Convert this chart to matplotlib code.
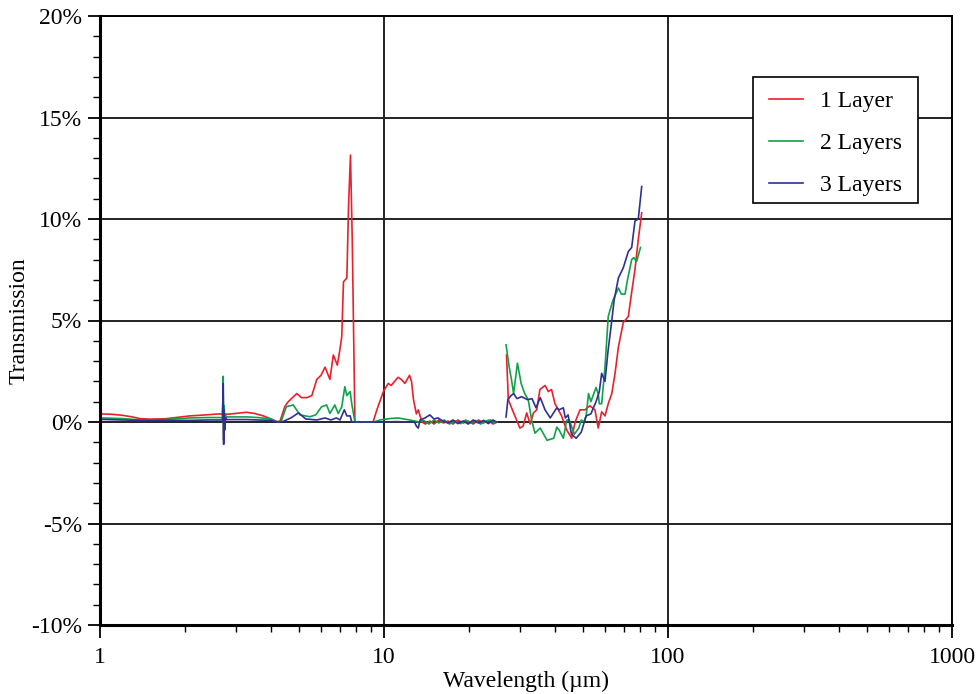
import numpy as np
import matplotlib
matplotlib.use("Agg")
import matplotlib.pyplot as plt
from matplotlib.patches import Rectangle
from matplotlib.ticker import FixedLocator, FuncFormatter, NullFormatter

# ---------------- data (wavelength in um, transmission in %) ----------------
nan = np.nan

wl_red = [1.0, 1.1, 1.2, 1.3, 1.38, 1.5, 1.7, 2.07, 2.3, 2.64, 2.70, 2.715, 2.725, 2.735, 2.75, 2.77, 2.8,
          3.0, 3.28, 3.5, 3.76, 4.0, 4.18, 4.3, 4.47, 4.6, 4.93, 5.12, 5.35, 5.57, 5.8, 6.0, 6.2, 6.45, 6.63,
          6.85, 7.0, 7.1, 7.2, 7.3, 7.4, 7.5, 7.62, 7.73, 7.9, 8.3, 8.8, 9.15, 9.44, 9.95, 10.35, 10.6,
          11.2, 11.5, 11.85, 12.3, 12.5, 12.7, 13.0, 13.2, 13.6, 14.0, 14.5, 15.0, 15.6, 16.2, 16.8, 17.5,
          18.2, 19.0, 19.8, 20.6, 21.5, 22.4, 23.3, 24.2, 24.9,
          26.0,
          27.0, 27.4, 28.5, 30.1, 30.9, 31.8, 32.7, 33.6, 34.5, 35.4, 36.9, 37.9, 38.9, 40.0, 41.1, 42.2,
          44.0, 45.8, 47.1, 49.0, 51.0, 53.1, 55.3, 56.8, 58.4, 60.0, 61.6, 63.4, 65.1, 66.9, 69.6, 72.5,
          74.5, 76.5, 78.6, 80.8]
t_red = [0.40, 0.38, 0.33, 0.25, 0.17, 0.14, 0.16, 0.30, 0.34, 0.40, 0.38, 1.2, -0.9, 0.5, -0.2, 0.4, 0.38,
         0.42, 0.48, 0.42, 0.30, 0.15, 0.03, 0.02, 0.75, 1.0, 1.4, 1.2, 1.2, 1.3, 2.1, 2.3, 2.7, 2.1, 3.3,
         2.8, 3.6, 4.2, 6.9, 7.0, 7.1, 10.6, 13.15, 9.0, 0.0, 0.0, 0.0, 0.0, 0.6, 1.5, 1.9, 1.8,
         2.2, 2.1, 1.9, 2.3, 2.0, 1.1, 0.4, 0.6, 0.0, -0.1, 0.05, -0.1, 0.1, -0.05, 0.05, -0.1,
         0.1, -0.05, 0.05, -0.1, 0.1, -0.05, 0.08, -0.1, 0.0,
         nan,
         3.3, 1.1, 0.5, -0.3, -0.2, 0.45, -0.1, 0.45, 0.6, 1.6, 1.8, 1.5, 1.6, 0.9, 0.6, 0.3,
         -0.4, -0.8, 0.0, 0.6, 0.6, 0.8, 0.6, -0.3, 0.5, 0.3, 0.9, 1.4, 2.4, 3.7, 4.9, 5.2,
         6.4, 7.5, 9.0, 10.3]

wl_green = [1.0, 1.2, 1.38, 1.7, 2.07, 2.4, 2.64, 2.70, 2.715, 2.725, 2.735, 2.75, 2.77, 2.8, 3.0, 3.3,
            3.6, 4.0, 4.2, 4.35, 4.53, 4.79, 5.06, 5.48, 5.75, 6.03, 6.28, 6.45, 6.71, 6.9, 7.1, 7.28,
            7.4, 7.6, 7.7, 7.9, 8.5, 9.2, 9.68, 10.5, 11.2, 12.3, 13.3, 13.8, 14.4, 15.0, 15.6, 16.3,
            17.0, 17.8, 18.6, 19.4, 20.2, 21.0, 21.9, 22.8, 23.7, 24.6, 25.0,
            26.0,
            26.9, 27.6, 28.1, 28.6, 29.5, 30.4, 31.3, 32.2, 33.1, 34.0, 35.5, 37.5, 39.6, 40.6, 41.4,
            42.8, 44.0, 44.9, 46.8, 48.5, 49.5, 50.5, 51.5, 52.5, 53.5, 55.8, 56.8, 57.3, 58.4, 60.0,
            61.6, 64.0, 66.9, 68.5, 70.6, 72.0, 74.5, 75.8, 77.5, 80.0]
t_green = [0.20, 0.17, 0.10, 0.12, 0.20, 0.22, 0.22, 0.2, 2.25, -0.6, 0.8, -0.2, 0.3, 0.25, 0.25, 0.25,
           0.22, 0.15, 0.0, 0.05, 0.75, 0.84, 0.35, 0.26, 0.35, 0.75, 0.84, 0.42, 0.84, 0.42, 0.75, 1.74,
           1.3, 1.5, 0.9, 0.0, 0.0, 0.0, 0.1, 0.17, 0.2, 0.1, 0.0, 0.08, -0.1, 0.1, -0.05, 0.1,
           -0.1, 0.05, -0.08, 0.1, -0.05, 0.08, -0.1, 0.05, 0.1, -0.05, 0.0,
           nan,
           3.8, 2.7, 2.1, 1.4, 2.9, 1.9, 1.4, 1.1, 0.1, -0.55, -0.3, -0.9, -0.8, -0.25, -0.4,
           -0.8, 0.1, 0.1, -0.6, -0.3, 0.1, 0.0, 0.3, 1.4, 1.0, 1.7, 1.4, 0.9, 0.9, 2.7,
           5.2, 6.0, 6.6, 6.3, 6.3, 7.0, 8.0, 8.1, 7.9, 8.6]

wl_blue = [1.0, 1.2, 1.38, 1.7, 2.07, 2.4, 2.64, 2.70, 2.715, 2.725, 2.735, 2.75, 2.77, 2.8, 3.0, 3.3,
           3.6, 4.0, 4.2, 4.4, 4.7, 5.0, 5.3, 5.8, 6.2, 6.5, 6.8, 7.0, 7.25, 7.4, 7.6, 7.7, 7.9, 8.5,
           9.2, 10.0, 11.0, 12.0, 12.8, 13.0, 13.2, 13.4, 13.95, 14.5, 15.0, 15.5, 16.1, 16.8, 17.5,
           18.2, 19.0, 19.8, 20.6, 21.5, 22.4, 23.3, 24.2, 24.9,
           26.0,
           26.9, 27.3, 28.0, 28.6, 29.4, 30.5, 32.0, 33.2, 34.3, 35.5, 36.9, 38.5, 40.6, 41.4, 42.8,
           43.5, 44.5, 45.7, 47.5, 49.5, 51.5, 53.5, 55.8, 57.3, 58.4, 60.0, 61.5, 63.4, 64.6, 66.9,
           69.6, 72.5, 74.5, 76.5, 78.6, 80.8]
t_blue = [0.13, 0.10, 0.08, 0.08, 0.08, 0.10, 0.10, 0.1, 1.9, -1.1, 0.6, -0.4, 0.2, 0.12, 0.12, 0.12,
          0.10, 0.08, 0.0, 0.02, 0.2, 0.45, 0.15, 0.1, 0.2, 0.1, 0.2, 0.1, 0.6, 0.3, 0.3, 0.0, 0.0, 0.0,
          0.0, 0.0, 0.02, 0.0, 0.0, -0.2, -0.3, 0.1, 0.2, 0.35, 0.15, 0.2, 0.05, -0.05, 0.1,
          -0.08, 0.05, -0.1, 0.1, -0.05, 0.08, -0.08, 0.1, 0.0,
          nan,
          0.25, 1.1, 1.3, 1.4, 1.15, 1.25, 1.1, 1.15, 0.7, 1.2, 0.6, 0.2, 0.7, 0.6, 0.7,
          0.2, 0.35, -0.6, -0.8, -0.5, 0.3, 0.4, 1.0, 1.5, 2.4, 2.0, 3.5, 5.0, 6.0, 7.1,
          7.6, 8.4, 8.6, 9.9, 10.0, 11.6]

series_labels = ["1 Layer", "2 Layers", "3 Layers"]
series_colors = ["#e8212b", "#0fa24a", "#2e3192"]

y_ticks = [20, 15, 10, 5, 0, -5, -10]
x_ticks = [1, 10, 100, 1000]

# ---------------- plot ----------------
plt.rcParams['font.family'] = ['Liberation Serif', 'DejaVu Serif']

fig = plt.figure(figsize=(9.8, 6.94), dpi=100)
ax = fig.add_axes([100/980, 1 - 625/694, 852/980, 609/694])

for wl, t, lab, col in zip([wl_red, wl_green, wl_blue], [t_red, t_green, t_blue],
                           series_labels, series_colors):
    ax.plot(wl, t, color=col, lw=1.2, label=lab)

ax.set_xscale('log')
ax.set_xlim(1, 1000)
ax.set_ylim(-10, 20)

ax.xaxis.set_major_locator(FixedLocator(x_ticks))
ax.xaxis.set_major_formatter(FuncFormatter(lambda v, p: f"{v:g}"))
minor_x = [m * 10**e for e in range(0, 3) for m in range(2, 10)]
ax.xaxis.set_minor_locator(FixedLocator(minor_x))
ax.xaxis.set_minor_formatter(NullFormatter())

ax.yaxis.set_major_locator(FixedLocator(y_ticks))
ax.yaxis.set_major_formatter(FuncFormatter(lambda v, p: f"{v:g}%".replace("\u2212", "-")))
ax.yaxis.set_minor_locator(FixedLocator(list(range(-10, 21))))

ax.tick_params(axis='both', which='major', direction='out', length=9, width=1.3,
               labelsize=17, colors='black')
ax.tick_params(axis='both', which='minor', direction='out', length=5, width=1.0)
ax.tick_params(axis='x', pad=7)
ax.tick_params(axis='y', pad=4)

ax.grid(True, which='major', color='#222222', lw=1.4)
ax.set_axisbelow(True)
for s in ax.spines.values():
    s.set_linewidth(1.4)
ax.spines['left'].set_linewidth(2.2)
ax.spines['bottom'].set_linewidth(2.2)

ax.set_xlabel("Wavelength (\u00b5m)", fontsize=17, labelpad=2)
ax.set_ylabel("Transmission", fontsize=17, labelpad=1)

# legend frame drawn separately so that its padding matches the reference
ax.add_patch(Rectangle((0.7664, 0.6929), 0.1937, 0.2069, transform=ax.transAxes,
                       facecolor='white', edgecolor='black', lw=1.2, zorder=4))
leg = ax.legend(loc='upper left', bbox_to_anchor=(0.7742, 0.8926), fontsize=17,
                frameon=False, handlelength=1.45, handletextpad=0.72,
                labelspacing=0.86, borderpad=0.4, borderaxespad=0)
leg.set_zorder(5)

fig.savefig("out.png", dpi=100)
